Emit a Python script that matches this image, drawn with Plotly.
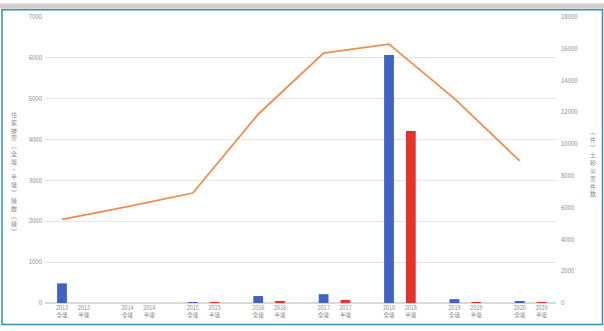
import plotly.graph_objects as go

years = ["2013", "2014", "2015", "2016", "2017", "2018", "2019", "2020"]
kinds = ["全壊", "半壊"]
zenkai = [480, 0, 8, 170, 215, 6070, 95, 25]      # blue bars (left axis)
hankai = [0, 0, 6, 50, 75, 4210, 3, 2]            # red bars (left axis)
line_vals = [5260, 6060, 6920, 11880, 15730, 16290, 12860, 8940]  # orange line (right axis)
left_ticks = [0, 1000, 2000, 3000, 4000, 5000, 6000, 7000]
right_ticks = [0, 2000, 4000, 6000, 8000, 10000, 12000, 14000, 16000, 18000]
left_title = "住家被害︵全壊・半壊︶棟数︵棟︶"
right_title = "︵件︶土砂災害件数"

FONT = "Noto Sans CJK JP"
GRAY = "#8c8c8c"

x_z = [3 * i for i in range(len(years))]
x_h = [3 * i + 1 for i in range(len(years))]
tickvals, ticktext = [], []
for i, y in enumerate(years):
    for j, k in enumerate(kinds):
        tickvals.append(3 * i + j)
        ticktext.append(f"{y}<br>{k}")

fig = go.Figure()
fig.add_trace(go.Bar(x=x_z, y=zenkai, width=0.45, marker=dict(color="#3f63c4", line_width=0), yaxis="y"))
fig.add_trace(go.Bar(x=x_h, y=hankai, width=0.45, marker=dict(color="#e5322a", line_width=0), yaxis="y"))
fig.add_trace(go.Scatter(x=x_z, y=line_vals, mode="lines", line=dict(color="#ee8d4f", width=1.8), yaxis="y2"))

fig.update_layout(
    width=604, height=331,
    margin=dict(l=45, r=48, t=12, b=25),
    paper_bgcolor="white", plot_bgcolor="white",
    showlegend=False, barmode="overlay",
    font=dict(family=FONT, size=6, color=GRAY),
    xaxis=dict(range=[-0.78, 22.66], tickvals=tickvals, ticktext=ticktext,
               showgrid=False, zeroline=False, showline=False, ticks="",
               tickfont=dict(size=5.5, color=GRAY), tickangle=0),
    yaxis=dict(range=[0, 7000], tickvals=left_ticks, showgrid=True, gridcolor="#e6e6e6",
               gridwidth=1, zeroline=True, zerolinecolor="#d9d9d9", showline=False,
               tickformat="d", tickfont=dict(size=6, color=GRAY), ticklabelstandoff=2),
    yaxis2=dict(range=[0, 18000], tickvals=right_ticks, overlaying="y", side="right",
                showgrid=False, zeroline=False, showline=False, tickformat="d",
                tickfont=dict(size=6, color=GRAY), ticklabelstandoff=4),
)

# vertical (upright) axis titles
fig.add_annotation(text="<br>".join(left_title), xref="paper", yref="paper",
                   x=(14 - 45) / 511, y=(306 - 172) / 294, xanchor="center", yanchor="middle",
                   showarrow=False, font=dict(size=6, color=GRAY, family=FONT))
fig.add_annotation(text="<br>".join(right_title), xref="paper", yref="paper",
                   x=(593 - 45) / 511, y=(306 - 162) / 294, xanchor="center", yanchor="middle",
                   showarrow=False, font=dict(size=6, color=GRAY, family=FONT))

# frame
fig.add_shape(type="rect", xref="paper", yref="paper", x0=-0.1, x1=1.1,
              y0=(306 - 3.5) / 294, y1=(306 + 2) / 294,
              fillcolor="#cfcfcf", line_width=0, layer="below")
fig.add_shape(type="rect", xref="paper", yref="paper",
              x0=(2 - 45) / 511, x1=(602.5 - 45) / 511,
              y0=(306 - 328) / 294, y1=(306 - 4.5) / 294,
              line=dict(color="#3a8cb8", width=1.5), fillcolor="rgba(0,0,0,0)")

fig.write_html("out.html")
